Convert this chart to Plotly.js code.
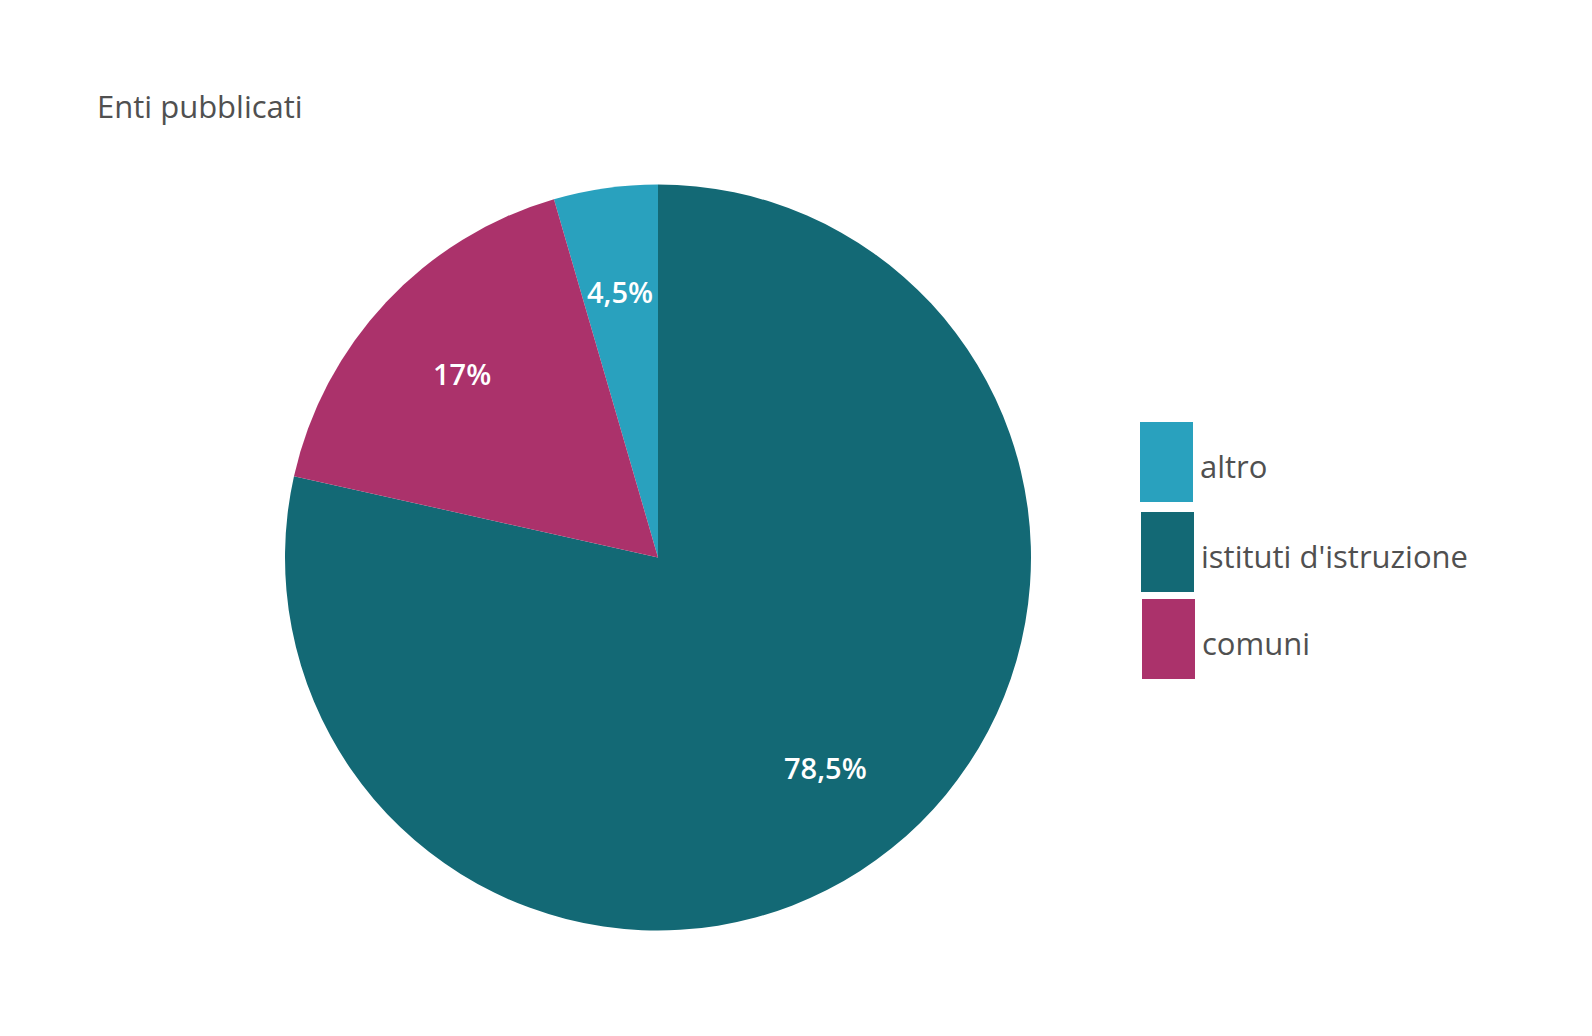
<!DOCTYPE html>
<html>
<head>
<meta charset="utf-8">
<script src="https://cdn.plot.ly/plotly-3.0.1.min.js"></script>
<style>html,body{margin:0;padding:0;background:#fff;}#chart{width:1592px;height:1036px;}</style>
</head>
<body>
<div id="chart"></div>
<script>
const categories = ["altro", "istituti d'istruzione", "comuni"];
const values = [4.5, 78.5, 17];
const colors = ["#29A1BE", "#136975", "#AB326B"];
const titleText = "Enti pubblicati";

const W = 1592, H = 1036;
const cx = 658, cy = 557.5, R = 373;
const FONT = 'Open Sans, sans-serif';

const shapes = [], annotations = [];

// custom legend (large swatches)
const legX = [1140, 1141, 1142];
const legY = [422, 512, 599];
const swW = 53, swH = 80;
categories.forEach((c, i) => {
  shapes.push({
    type: 'rect', xref: 'paper', yref: 'paper',
    x0: legX[i] / W, x1: (legX[i] + swW) / W,
    y0: 1 - (legY[i] + swH) / H, y1: 1 - legY[i] / H,
    fillcolor: colors[i], line: {width: 0}
  });
  annotations.push({
    xref: 'paper', yref: 'paper', x: (legX[i] + swW + 5) / W, y: 1 - (legY[i] + swH / 2 + 4) / H,
    xanchor: 'left', yanchor: 'middle', showarrow: false,
    text: c, font: {family: FONT, size: 31, color: '#505050'}
  });
});

// percentage labels placed at ~0.72 R along each slice's mid angle
const rotation = -values[0] * 3.6;
const total = values.reduce((a, b) => a + b, 0);
let cum = 0;
values.forEach((v, i) => {
  const a = (rotation + (cum + v / 2) / total * 360) * Math.PI / 180;
  cum += v;
  const r = 0.72 * R;
  const px = cx + r * Math.sin(a), py = cy - r * Math.cos(a);
  const pct = (v / total * 100);
  const txt = (Math.round(pct * 10) / 10).toString().replace('.', ',') + '%';
  annotations.push({
    xref: 'paper', yref: 'paper', x: px / W, y: 1 - py / H,
    xanchor: 'center', yanchor: 'middle', showarrow: false,
    text: txt, font: {family: FONT, size: 29, color: '#ffffff', weight: 600}
  });
});

const trace = {
  type: 'pie',
  labels: categories,
  values: values,
  marker: {colors: colors, line: {width: 0}},
  sort: false,
  direction: 'clockwise',
  rotation: rotation,
  textinfo: 'none',
  hoverinfo: 'label+percent',
  showlegend: false,
  automargin: false,
  domain: {x: [(cx - R) / W, (cx + R) / W], y: [1 - (cy + R) / H, 1 - (cy - R) / H]}
};

const layout = {
  width: W, height: H,
  margin: {l: 0, r: 0, t: 0, b: 0},
  paper_bgcolor: '#ffffff',
  separators: ',.',
  showlegend: false,
  title: {
    text: titleText, x: 97 / W, xanchor: 'left', xref: 'paper',
    y: 1 - 107 / H, yanchor: 'middle', yref: 'container',
    font: {family: FONT, size: 31, color: '#505050'}
  },
  shapes: shapes,
  annotations: annotations
};

Plotly.newPlot('chart', [trace], layout, {displayModeBar: false});
</script>
</body>
</html>
